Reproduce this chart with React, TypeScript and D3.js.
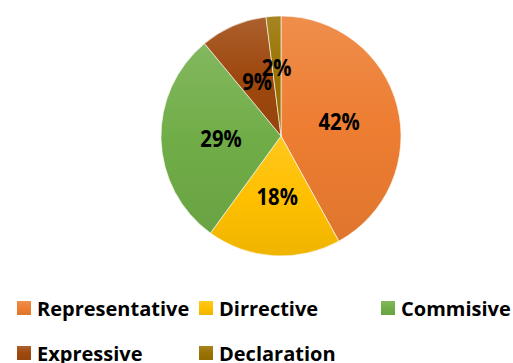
import React from "react";
import * as d3 from "d3";

const categories = ["Representative", "Dirrective", "Commisive", "Expressive", "Declaration"];
const values = [42, 18, 29, 9, 2];
const labels = ["42%", "18%", "29%", "9%", "2%"];
const colors = ["#ED7D31", "#FFC000", "#70AD47", "#9E480E", "#997300"];

const W = 513, H = 363;
const cx = 281, cy = 136, R = 120;
const FONT = "'Open Sans', 'DejaVu Sans', sans-serif";

function lighter(c: string, t: number) {
  return d3.interpolateRgb(c, "#ffffff")(t);
}
function darker(c: string, t: number) {
  return d3.interpolateRgb(c, "#000000")(t);
}

export default function App() {
  const pie = d3.pie<number>().sort(null).value((d) => d)(values);
  const arc = d3.arc<d3.PieArcDatum<number>>().innerRadius(0).outerRadius(R);

  const legendPos = [
    { x: 17, y: 308 },
    { x: 199, y: 308 },
    { x: 381, y: 308 },
    { x: 17, y: 353 },
    { x: 199, y: 353 },
  ];

  return (
    <svg width={W} height={H} style={{ position: "absolute", left: 0, top: 0, background: "#fff" }}>
      <defs>
        {colors.map((c, i) => (
          <linearGradient key={i} id={`g${i}`} x1="0" y1="0" x2="0" y2="1">
            <stop offset="0" stopColor={lighter(c, 0.13)} />
            <stop offset="0.5" stopColor={c} />
            <stop offset="1" stopColor={darker(c, 0.06)} />
          </linearGradient>
        ))}
      </defs>
      <g transform={`translate(${cx},${cy})`}>
        {pie.map((p, i) => (
          <path key={i} d={arc(p) || ""} fill={`url(#g${i})`} stroke="#ffffff" strokeWidth={0.6} />
        ))}
        {pie.map((p, i) => {
          const a = (p.startAngle + p.endAngle) / 2;
          const r = values[i] < 5 ? 69 : 60;
          const x = Math.sin(a) * r;
          const y = -Math.cos(a) * r;
          return (
            <g key={i} transform={`translate(${x},${y}) scale(0.88,1)`}>
              <text
                x={0}
                y={0}
                textAnchor="middle"
                dominantBaseline="central"
                fontFamily={FONT}
                fontWeight="bold"
                fontSize={23}
                fill="#000"
              >
                {labels[i]}
              </text>
            </g>
          );
        })}
      </g>
      {categories.map((c, i) => (
        <g key={i} transform={`translate(${legendPos[i].x},${legendPos[i].y})`}>
          <rect x={0} y={-7} width={14} height={14} fill={`url(#g${i})`} />
          <text x={20} y={0} dominantBaseline="central" fontFamily={FONT} fontWeight="bold" fontSize={20} fill="#000">
            {c}
          </text>
        </g>
      ))}
    </svg>
  );
}
